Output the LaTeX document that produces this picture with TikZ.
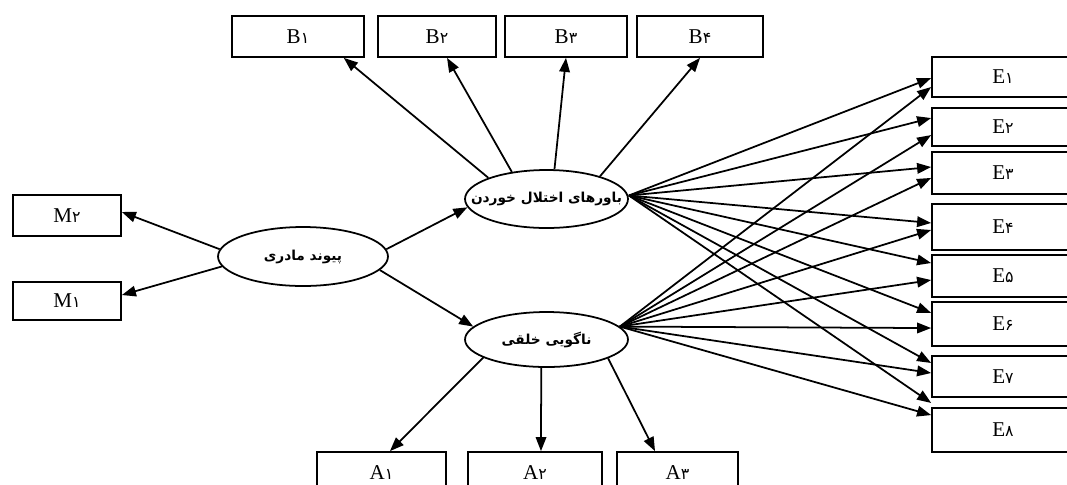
\documentclass[tikz,border=0pt]{standalone}
\usepackage{fontspec}
\setmainfont{Liberation Serif}
\newfontfamily\fa[Script=Arabic]{DejaVu Sans}
\TeXXeTstate=1
\usetikzlibrary{shapes.geometric,arrows.meta}
\newcommand{\pd}[1]{{\fa\fontsize{9}{9}\selectfont #1}}
\newcommand{\fatxt}[1]{\makebox[0pt]{\beginR #1\endR}}
\begin{document}
\begin{tikzpicture}[x=0.02cm,y=-0.02cm,
		box/.style={draw,line width=1pt,inner sep=0pt,font=\fontsize{12}{12}\selectfont},
		latent/.style={draw,ellipse,line width=1pt,inner sep=0pt,font=\fa\bfseries\fontsize{7.8}{8}\selectfont},
		arr/.style={line width=1pt,-{Triangle[length=8pt,width=6pt]}}]
		\useasboundingbox (0,0) rectangle (1067,484);
		\clip (0,0) rectangle (1067,484);

		\node[latent,minimum width=3.4cm,minimum height=1.18cm] (bond) at (303,256.5) {\fatxt{پیوند مادری}};
		\node[latent,minimum width=3.26cm,minimum height=1.16cm] (belief) at (546.5,199) {\fatxt{باورهای اختلال خوردن}};
		\node[latent,minimum width=3.26cm,minimum height=1.1cm] (alex) at (546.5,339.5) {\fatxt{ناگویی خلقی}};

		\node[box,minimum width=2.16cm,minimum height=0.82cm] (M2) at (67,215.5) {M\pd{۲}};
		\node[box,minimum width=2.16cm,minimum height=0.76cm] (M1) at (67,301) {M\pd{۱}};

		\node[box,minimum width=2.64cm,minimum height=0.82cm] (B1) at (298,36.5) {B\pd{۱}};
		\node[box,minimum width=2.36cm,minimum height=0.82cm] (B2) at (437,36.5) {B\pd{۲}};
		\node[box,minimum width=2.44cm,minimum height=0.82cm] (B3) at (566,36.5) {B\pd{۳}};
		\node[box,minimum width=2.52cm,minimum height=0.82cm] (B4) at (700,36.5) {B\pd{۴}};

		\node[box,minimum width=2.58cm,minimum height=0.84cm] (A1) at (381.5,473) {A\pd{۱}};
		\node[box,minimum width=2.68cm,minimum height=0.84cm] (A2) at (535,473) {A\pd{۲}};
		\node[box,minimum width=2.42cm,minimum height=0.84cm] (A3) at (677.5,473) {A\pd{۳}};

		\node[box,minimum width=2.84cm,minimum height=0.80cm] (E1) at (1003,77) {E\pd{۱}};
		\node[box,minimum width=2.84cm,minimum height=0.76cm] (E2) at (1003,127) {E\pd{۲}};
		\node[box,minimum width=2.84cm,minimum height=0.84cm] (E3) at (1003,173) {E\pd{۳}};
		\node[box,minimum width=2.84cm,minimum height=0.92cm] (E4) at (1003,227) {E\pd{۴}};
		\node[box,minimum width=2.84cm,minimum height=0.84cm] (E5) at (1003,276) {E\pd{۵}};
		\node[box,minimum width=2.84cm,minimum height=0.88cm] (E6) at (1003,324) {E\pd{۶}};
		\node[box,minimum width=2.84cm,minimum height=0.82cm] (E7) at (1003,376.5) {E\pd{۷}};
		\node[box,minimum width=2.84cm,minimum height=0.88cm] (E8) at (1003,430) {E\pd{۸}};

		\draw[arr] (bond.175) to ([yshift=2pt]M2.east); \draw[arr] (bond.187) to ([yshift=3.4pt]M1.east);
		\draw[arr] (bond.5) to (belief.186); \draw[arr] (bond.-10) to (alex.170);

		\draw[arr] (belief.160) to ([xshift=-12pt]B1.south east); \draw[arr] (belief.142) to ([xshift=5.7pt]B2.south);
		\draw[arr] (belief.75) to (B3.south); \draw[arr] (belief.23) to (B4.south);

		\draw[arr] (alex.196) to ([xshift=4.8pt]A1.north);
		\draw[arr] ([xshift=-3pt]alex.south) to ([xshift=3.4pt]A2.north);
		\draw[arr] (alex.-17) to ([xshift=-12.8pt]A3.north);

		\draw[arr] ([yshift=2pt]belief.east) to ([yshift=-0.6pt]E1.west); \draw[arr] (alex.10) to ([yshift=-5.7pt]E1.west);
		\draw[arr] ([yshift=2pt]belief.east) to ([yshift=5.1pt]E2.west); \draw[arr] (alex.10) to ([yshift=-4.6pt]E2.west);
		\draw[arr] ([yshift=2pt]belief.east) to ([yshift=3.4pt]E3.west); \draw[arr] (alex.10) to ([yshift=-2.8pt]E3.west);
		\draw[arr] ([yshift=2pt]belief.east) to ([yshift=2.3pt]E4.west); \draw[arr] (alex.10) to ([yshift=-1.7pt]E4.west);
		\draw[arr] ([yshift=2pt]belief.east) to ([yshift=7.4pt]E5.west); \draw[arr] (alex.10) to ([yshift=-2.3pt]E5.west);
		\draw[arr] ([yshift=2pt]belief.east) to ([yshift=6.3pt]E6.west); \draw[arr] (alex.10) to ([yshift=-2.3pt]E6.west);
		\draw[arr] ([yshift=2pt]belief.east) to ([yshift=7.7pt]E7.west); \draw[arr] (alex.10) to ([yshift=2pt]E7.west);
		\draw[arr] ([yshift=2pt]belief.east) to ([yshift=15.4pt]E8.west); \draw[arr] (alex.10) to ([yshift=8.5pt]E8.west);
\end{tikzpicture}
\end{document}
